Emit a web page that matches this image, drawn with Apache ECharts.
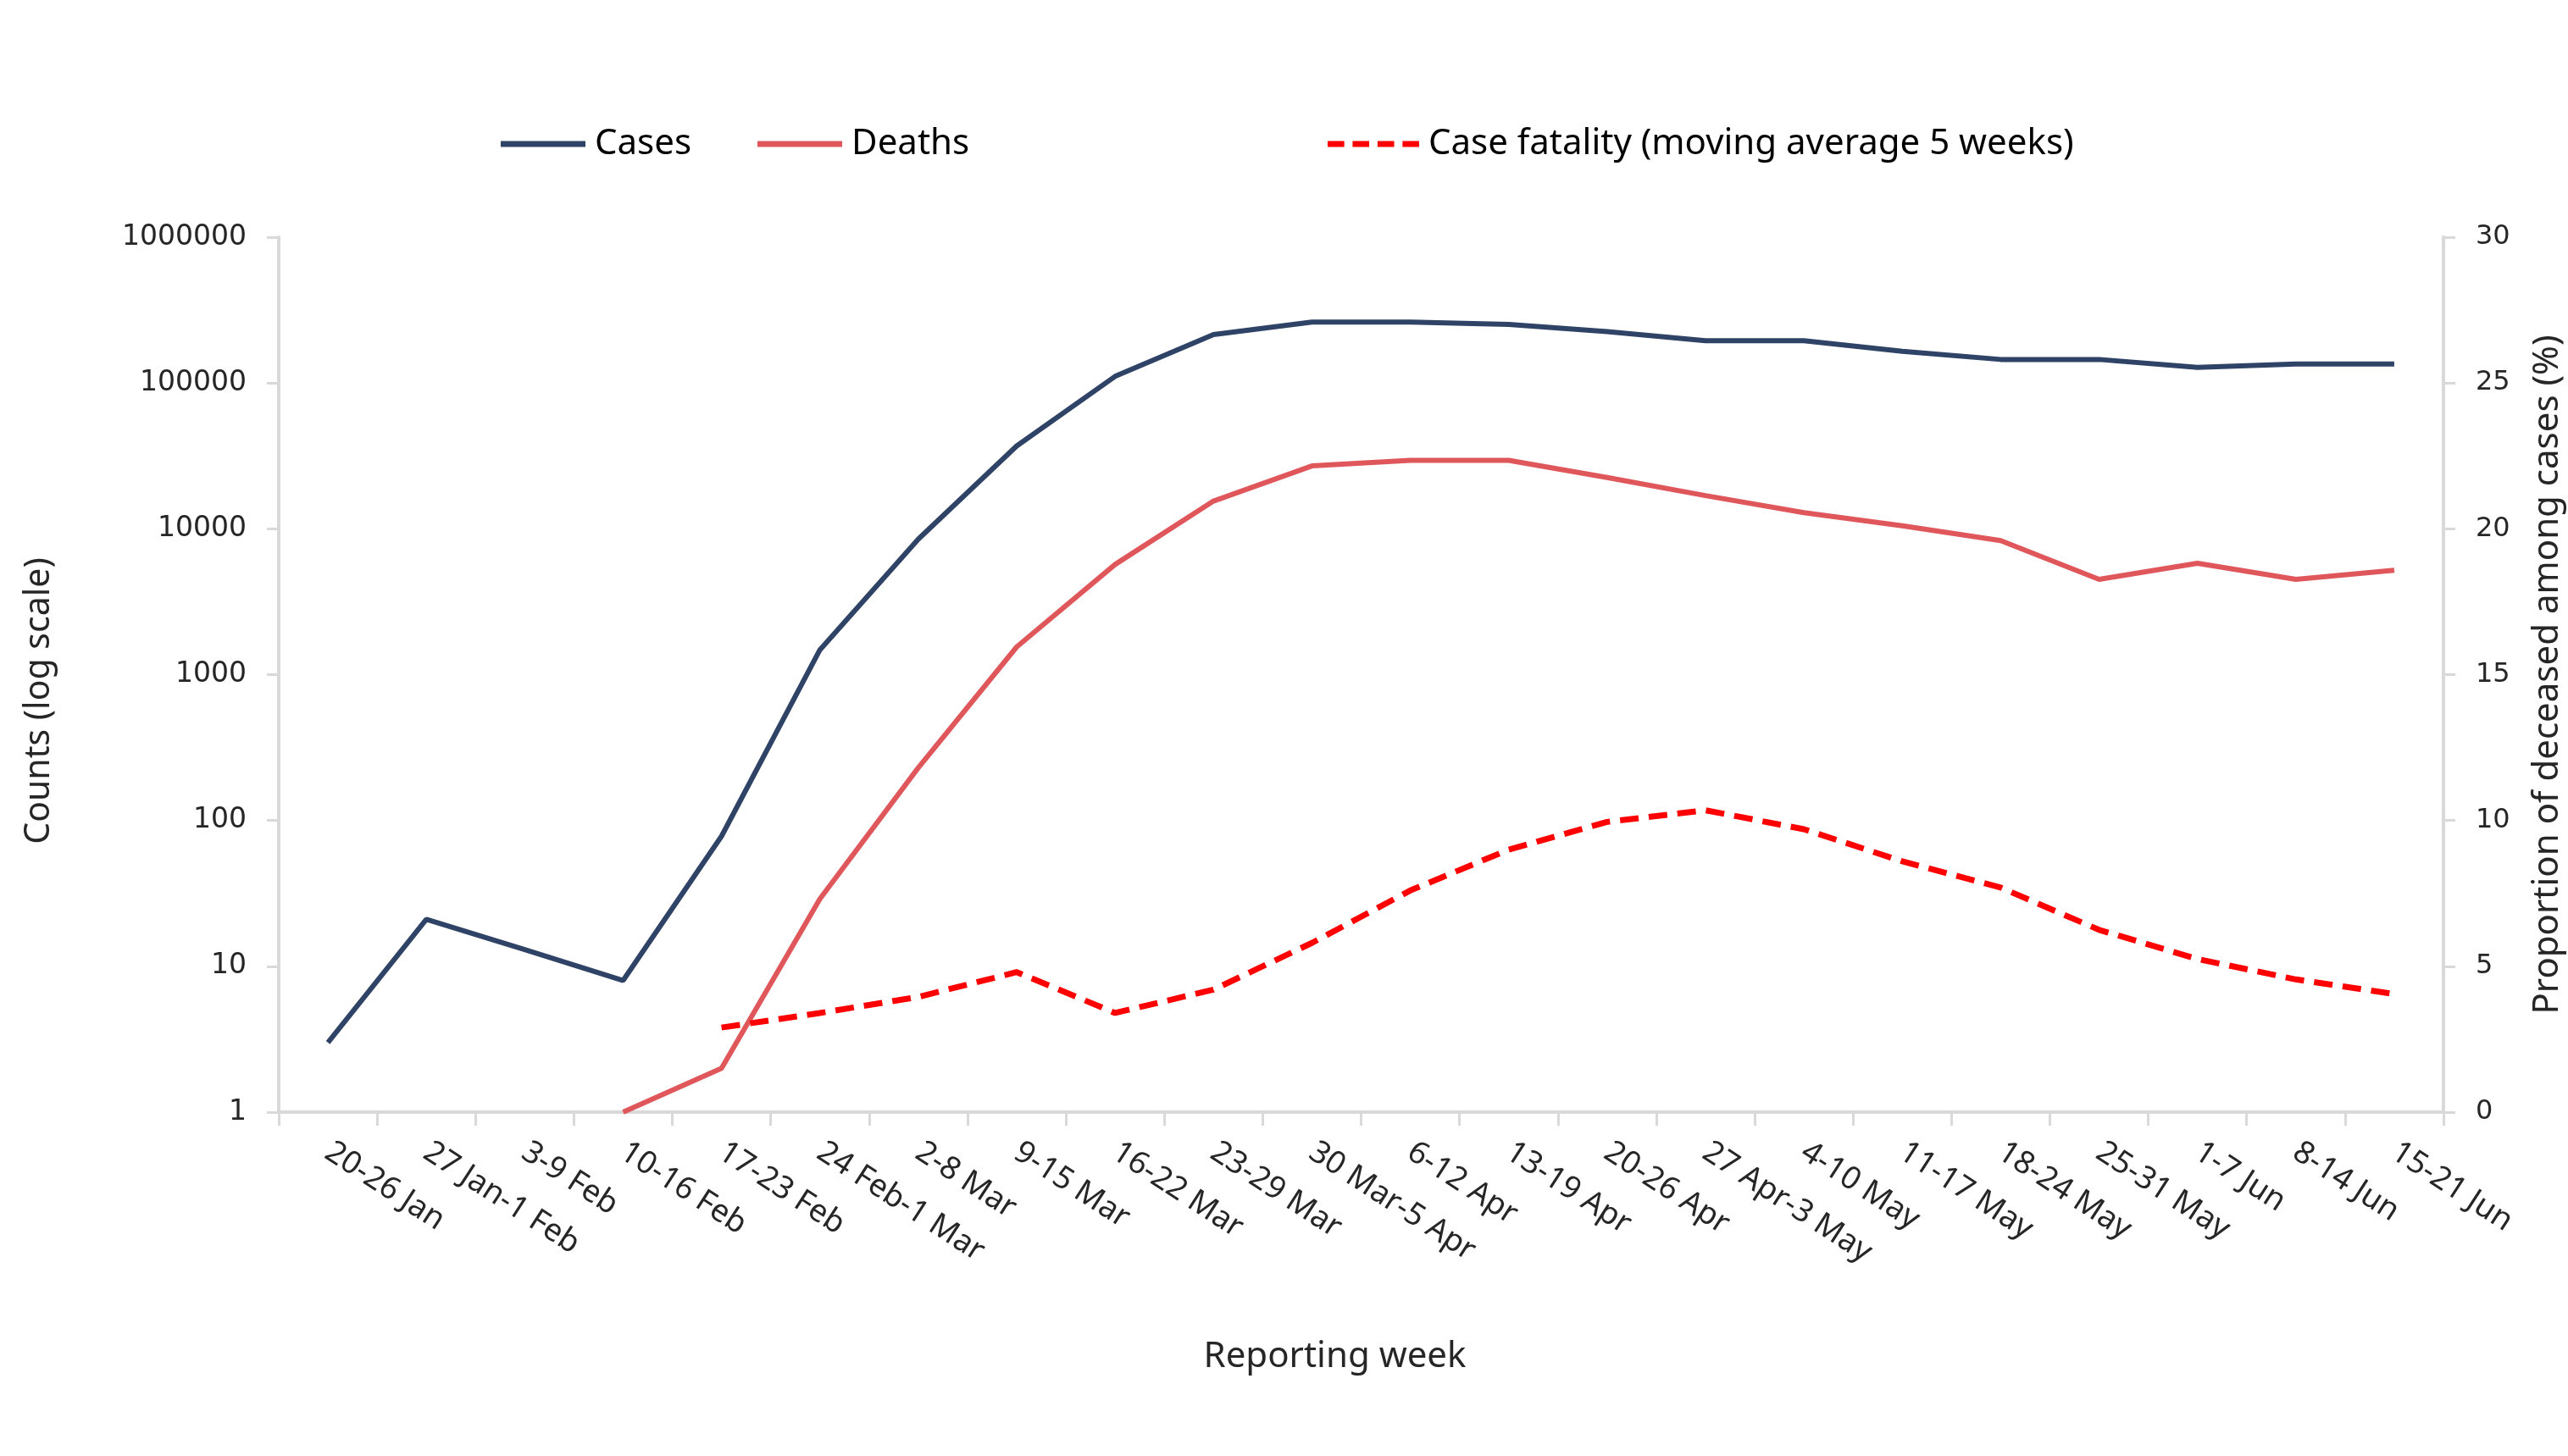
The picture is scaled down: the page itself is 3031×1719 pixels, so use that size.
<!DOCTYPE html>
<html>
<head>
<meta charset="utf-8">
<script src="https://cdn.jsdelivr.net/npm/echarts@6/dist/echarts.min.js"></script>
<style>
  html, body { margin: 0; padding: 0; background: #fff; }
  #chart { width: 3031px; height: 1719px; }
</style>
</head>
<body>
<div id="chart"></div>
<script>
const categories = [
  "20-26 Jan", "27 Jan-1 Feb", "3-9 Feb", "10-16 Feb", "17-23 Feb", "24 Feb-1 Mar",
  "2-8 Mar", "9-15 Mar", "16-22 Mar", "23-29 Mar", "30 Mar-5 Apr", "6-12 Apr",
  "13-19 Apr", "20-26 Apr", "27 Apr-3 May", "4-10 May", "11-17 May", "18-24 May",
  "25-31 May", "1-7 Jun", "8-14 Jun", "15-21 Jun"
];
const cases = [3, 21, 13, 8, 78, 1480, 8500, 37000, 111000, 215000, 262000, 262000,
  252000, 225000, 195000, 195000, 165000, 145000, 145000, 128000, 135000, 135000];
const deaths = [null, null, null, 1, 2, 29, 230, 1550, 5700, 15500, 27000, 29500,
  29500, 22500, 16900, 12900, 10500, 8300, 4500, 5800, 4500, 5200];
const caseFatality = [null, null, null, null, 2.9, 3.4, 3.95, 4.8, 3.4, 4.2, 5.8, 7.6,
  9.0, 9.95, 10.35, 9.7, 8.6, 7.7, 6.25, 5.25, 4.55, 4.05];
const leftTicks = [1, 10, 100, 1000, 10000, 100000, 1000000];
const rightTicks = [0, 5, 10, 15, 20, 25, 30];

const FONT = "'Noto Sans', 'Open Sans', sans-serif";
const TICKFONT = "'DejaVu Sans', sans-serif";
const TEXT = '#262626';
const AXIS = '#d9d9d9';

const SOLID_ICON = 'path://M0,0H100V7H0Z';
const DASH_ICON = 'path://M0,0H20V7H0Z M30,0H50V7H30Z M60,0H80V7H60Z M90,0H110V7H90Z';

const chart = echarts.init(document.getElementById('chart'), null, { renderer: 'canvas' });

function legendFor(name, left, icon, width) {
  return {
    data: [{ name: name, icon: icon }], left: left, top: 144, itemWidth: width, itemHeight: 7,
    textStyle: { fontFamily: FONT, fontSize: 42, color: '#000', padding: [0, 0, 0, 6] }
  };
}

chart.setOption({
  animation: false,
  backgroundColor: '#ffffff',
  legend: [
    legendFor('Cases', 586, SOLID_ICON, 100),
    legendFor('Deaths', 889, SOLID_ICON, 100),
    legendFor('Case fatality (moving average 5 weeks)', 1562, DASH_ICON, 108)
  ],
  grid: { left: 329, right: 147, top: 280, bottom: 406, containLabel: false, outerBoundsMode: 'none' },
  xAxis: {
    type: 'category', data: categories, boundaryGap: true,
    name: 'Reporting week', nameLocation: 'middle', nameGap: 268,
    nameTextStyle: { fontFamily: FONT, fontSize: 42, color: TEXT, padding: [0, 62, 0, 0] },
    axisLine: { lineStyle: { color: AXIS, width: 4 } },
    axisTick: { show: true, length: 16, lineStyle: { color: AXIS, width: 3 } },
    axisLabel: { interval: 0, rotate: -33, margin: 44, fontFamily: FONT, fontSize: 37, color: TEXT }
  },
  yAxis: [
    {
      type: 'log', logBase: 10, min: 1, max: 1000000, position: 'left',
      name: 'Counts (log scale)', nameLocation: 'middle', nameGap: 262, nameRotate: 90,
      nameTextStyle: { fontFamily: FONT, fontSize: 41, color: TEXT, padding: [0, 62, 0, 0] },
      axisLine: { show: true, lineStyle: { color: AXIS, width: 4 } },
      axisTick: { show: true, length: 14, lineStyle: { color: AXIS, width: 3 } },
      splitLine: { show: false },
      axisLabel: {
        margin: 38, fontFamily: TICKFONT, fontSize: 33, color: TEXT,
        formatter: function (v) {
          const r = Math.round(v);
          return leftTicks.indexOf(r) >= 0 ? String(r) : '';
        }
      }
    },
    {
      type: 'value', min: 0, max: 30, interval: 5, position: 'right',
      name: 'Proportion of deceased among cases (%)', nameLocation: 'middle', nameGap: 102, nameRotate: 90,
      nameTextStyle: { fontFamily: FONT, fontSize: 42, color: TEXT },
      axisLine: { show: true, lineStyle: { color: AXIS, width: 4 } },
      axisTick: { show: true, length: 14, lineStyle: { color: AXIS, width: 3 } },
      splitLine: { show: false },
      axisLabel: {
        margin: 38, fontFamily: TICKFONT, fontSize: 32, color: TEXT,
        formatter: function (v) { return rightTicks.indexOf(v) >= 0 ? String(v) : ''; }
      }
    }
  ],
  series: [
    {
      name: 'Cases', type: 'line', yAxisIndex: 0, data: cases, symbol: 'none',
      lineStyle: { color: '#2f4366', width: 6 }, itemStyle: { color: '#2f4366' }
    },
    {
      name: 'Deaths', type: 'line', yAxisIndex: 0, data: deaths, symbol: 'none',
      lineStyle: { color: '#e0575b', width: 6 }, itemStyle: { color: '#e0575b' }
    },
    {
      name: 'Case fatality (moving average 5 weeks)', type: 'line', yAxisIndex: 1, data: caseFatality,
      symbol: 'none',
      lineStyle: { color: '#ff0000', width: 7, type: [22, 12] }, itemStyle: { color: '#ff0000' }
    }
  ]
});
</script>
</body>
</html>
